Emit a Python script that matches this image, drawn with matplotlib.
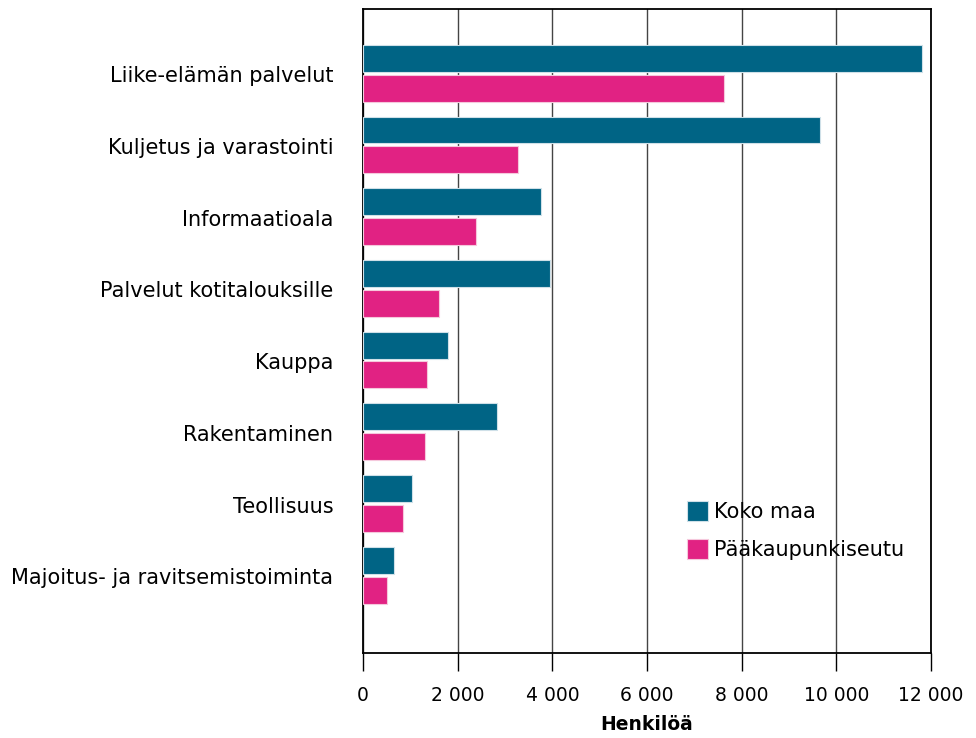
import numpy as np
import matplotlib
matplotlib.use("Agg")
from matplotlib import pyplot as plt
from matplotlib.ticker import FuncFormatter

categories = ["Liike-elämän palvelut", "Kuljetus ja varastointi", "Informaatioala",
              "Palvelut kotitalouksille", "Kauppa", "Rakentaminen", "Teollisuus",
              "Majoitus- ja ravitsemistoiminta"]
koko_maa = [11800, 9660, 3760, 3950, 1800, 2830, 1040, 660]
paakaupunkiseutu = [7630, 3280, 2390, 1610, 1350, 1310, 850, 510]
series_names = ["Koko maa", "Pääkaupunkiseutu"]
colors = ["#006485", "#e12283"]

plt.rcParams['font.family'] = ['DejaVu Sans']
fig = plt.figure(figsize=(9.76, 7.38), dpi=100)
ax = fig.add_axes([363/976, 1-653/738, (931-363)/976, (653-9)/738])

y = np.arange(len(categories))
h = 0.375
ax.barh(y - h/2 - 0.015, koko_maa, height=h, color=colors[0], edgecolor="#cfe0e8",
        linewidth=0.8, label=series_names[0], zorder=3)
ax.barh(y + h/2 + 0.025, paakaupunkiseutu, height=h, color=colors[1], edgecolor="#f5c8dc",
        linewidth=0.8, label=series_names[1], zorder=3)

ax.set_ylim(len(categories) - 1 + 1.09, -0.89)
ax.set_xlim(0, 12000)
ax.set_yticks(y + 0.02)
ax.set_yticklabels(categories, fontsize=15)
ax.tick_params(axis='y', length=0, pad=21.5)
ax.set_xticks(np.arange(0, 12001, 2000))
ax.xaxis.set_major_formatter(FuncFormatter(lambda v, p: f"{int(v):,}".replace(",", " ")))
ax.tick_params(axis='x', direction='out', length=13, width=1, labelsize=13.5, pad=11)
ax.grid(axis='x', color="#444444", linewidth=1, zorder=0)
for s in ax.spines.values():
    s.set_linewidth(1.3)
    s.set_color("black")
ax.set_xlabel("Henkilöä", fontsize=13.5, fontweight='bold', labelpad=7)

leg = ax.legend(loc='upper left', bbox_to_anchor=((687-363)/568, 1-(501-9)/644),
                frameon=False, fontsize=15, handlelength=1.0, handleheight=1.1,
                handletextpad=0.3, labelspacing=0.8, borderpad=0, borderaxespad=0)

fig.savefig("out.png", dpi=100)
